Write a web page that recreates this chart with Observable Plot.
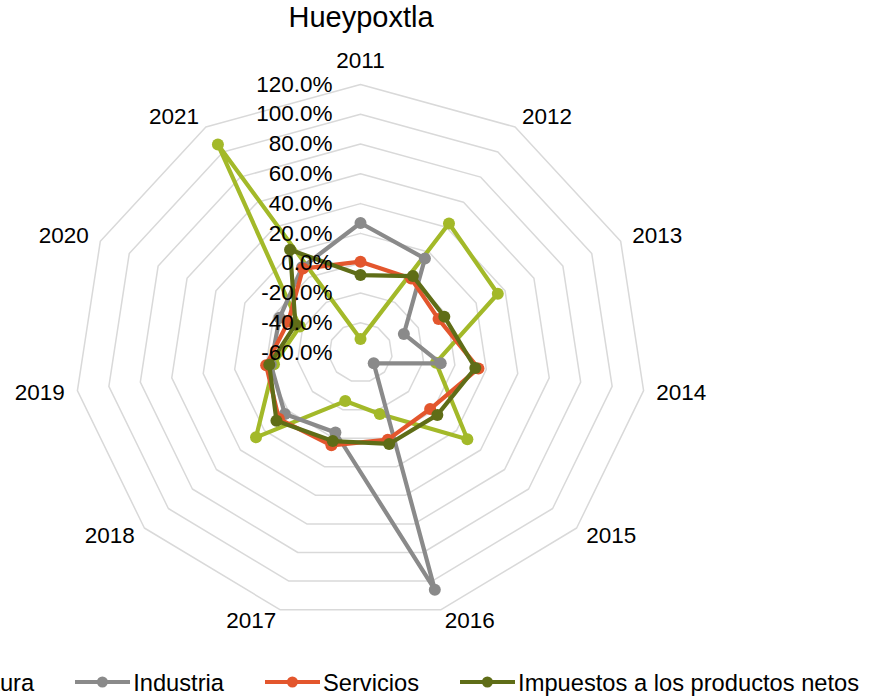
<!DOCTYPE html>
<html>
<head>
<meta charset="utf-8">
<script src="https://cdn.jsdelivr.net/npm/d3@7"></script>
<script src="https://cdn.jsdelivr.net/npm/@observablehq/plot@0.6"></script>
<style>
html, body { margin: 0; padding: 0; background: #fff; overflow: hidden; }
#wrap { position: relative; width: 872px; height: 700px; overflow: hidden; font-family: "Liberation Sans", Arial, sans-serif; color: #000; }
#chart { position: absolute; left: 0; top: 0; }
#title { position: absolute; left: 0; top: 1px; width: 722px; text-align: center; font-size: 29px; line-height: 32px; }
#legend { position: absolute; left: 361px; top: 671px; transform: translateX(-50%); width: max-content; white-space: nowrap; display: flex; align-items: center; height: 24px; font-size: 23.7px; line-height: 24px; }
#legend .item { display: flex; align-items: center; margin-right: 41px; }
#legend .item:last-child { margin-right: 0; }
#legend svg { display: block; margin-right: 3px; }
</style>
</head>
<body>
<div id="wrap">
  <div id="chart"></div>
  <div id="title">Hueypoxtla</div>
  <div id="legend"></div>
</div>
<script>
// ---- data ----
const years = ["2011", "2012", "2013", "2014", "2015", "2016", "2017", "2018", "2019", "2020", "2021"];
const agricultura = [-51, 43, 35, -12, 29, -17, -26, 27, -5, -18, 106];
const industria   = [27, 15, -30, -9, -49, 106, -4, 3, -3, -4, 8];
const servicios   = [1, -1, -6, 15, -2, 1, 5, 8, 0, -10, 7];
const impuestos   = [-8, 1, -2, 13, 4, 4, 2, 10, -2, -15, 22];
const tickValues  = [-60, -40, -20, 0, 20, 40, 60, 80, 100, 120];
const seriesNames = ["Agricultura", "Industria", "Servicios", "Impuestos a los productos netos"];
const seriesColors = ["#a3b929", "#8a8a8a", "#e3562d", "#5f6d17"];
const seriesValues = [agricultura, industria, servicios, impuestos];

// ---- helpers ----
const vMin = tickValues[0];
const vMax = tickValues[tickValues.length - 1];
const span = vMax - vMin;
const n = years.length;
const ang = i => (i * 2 * Math.PI) / n;
const px = (v, i) => (v - vMin) * Math.sin(ang(i));
const py = (v, i) => (v - vMin) * Math.cos(ang(i));

// grid rings (closed polygons)
const rings = [];
tickValues.slice(1).forEach(t => {
  for (let k = 0; k <= n; k++) {
    const i = k % n;
    rings.push({ ring: t, x: px(t, i), y: py(t, i) });
  }
});

// series polygons
const seriesPts = [];
const seriesDots = [];
seriesValues.forEach((vals, s) => {
  for (let k = 0; k <= n; k++) {
    const i = k % n;
    const p = { s, x: px(vals[i], i), y: py(vals[i], i) };
    seriesPts.push(p);
    if (k < n) seriesDots.push(p);
  }
});

// category labels
const labelPad = 8;
const catLabels = years.map((yr, i) => ({ yr, i, x: px(vMax + labelPad, i), y: py(vMax + labelPad, i), s: Math.sin(ang(i)) }));

const font = "Liberation Sans, Arial, sans-serif";
const marks = [
  Plot.line(rings, { x: "x", y: "y", z: "ring", stroke: "#d9d9d9", strokeWidth: 1.5 }),
];
seriesValues.forEach((vals, s) => {
  marks.push(Plot.line(seriesPts.filter(d => d.s === s), { x: "x", y: "y", stroke: seriesColors[s], strokeWidth: 4.2, strokeLinejoin: "round", strokeLinecap: "round" }));
  marks.push(Plot.dot(seriesDots.filter(d => d.s === s), { x: "x", y: "y", r: 6, fill: seriesColors[s], stroke: "none" }));
});
marks.push(
  Plot.text(tickValues, { x: () => 0, y: v => v - vMin, text: v => v.toFixed(1) + "%", textAnchor: "end", dx: -28, fontSize: 22.5, fontFamily: font, fill: "#000" }),
  Plot.text(catLabels.filter(d => Math.abs(d.s) < 0.01), { x: "x", y: "y", text: "yr", textAnchor: "middle", dy: -12, fontSize: 22.5, fontFamily: font, fill: "#000" }),
  Plot.text(catLabels.filter(d => d.s >= 0.01), { x: "x", y: "y", text: "yr", textAnchor: "start", fontSize: 22.5, fontFamily: font, fill: "#000" }),
  Plot.text(catLabels.filter(d => d.s <= -0.01), { x: "x", y: "y", text: "yr", textAnchor: "end", fontSize: 22.5, fontFamily: font, fill: "#000" })
);

const chart = Plot.plot({
  width: 872,
  height: 700,
  x: { domain: [-span, span], range: [360 - 286, 360 + 286], axis: null },
  y: { domain: [-span, span], range: [352 + 268, 352 - 268], axis: null },
  marks
});
document.getElementById("chart").appendChild(chart);

// legend
const legend = document.getElementById("legend");
seriesNames.forEach((name, s) => {
  const item = document.createElement("div");
  item.className = "item";
  item.innerHTML = `<svg width="55" height="24"><line x1="0" x2="55" y1="11" y2="11" stroke="${seriesColors[s]}" stroke-width="4" stroke-linecap="round"/><circle cx="27.5" cy="11" r="5.5" fill="${seriesColors[s]}"/></svg><span>${name}</span>`;
  legend.appendChild(item);
});
</script>
</body>
</html>
